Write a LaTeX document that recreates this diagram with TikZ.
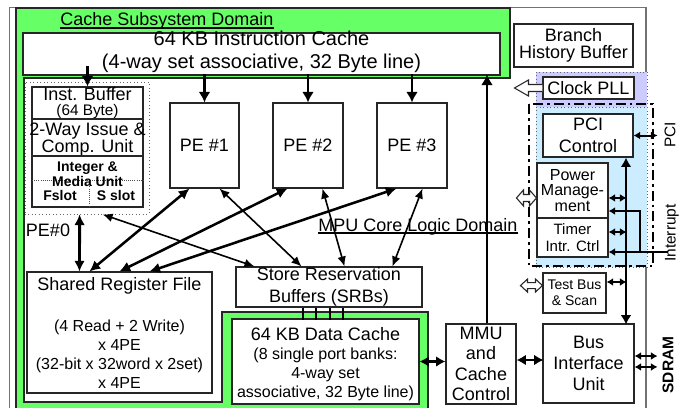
\documentclass[tikz,border=0pt]{standalone}
\usepackage{fontspec}
\setmainfont{Liberation Sans}
\usetikzlibrary{arrows.meta}
\definecolor{cgreen}{RGB}{102,255,102}
\definecolor{cpurple}{RGB}{204,204,255}
\definecolor{cblue}{RGB}{204,236,255}
\tikzset{
  R/.style n args={4}{minimum width={(#3-#1)*0.75pt},minimum height={(#4-#2)*0.75pt},at={({(#1+#3)/2},{(#2+#4)/2})}},
  box/.style={draw=black!85,fill=white,line width=0.8pt,inner sep=0pt,align=center},
  txt/.style={inner sep=0pt,align=center},
  f20/.style={font=\fontsize{15pt}{17.25pt}\selectfont},
  f18/.style={font=\fontsize{13.5pt}{16pt}\selectfont},
  f16/.style={font=\fontsize{12pt}{14.25pt}\selectfont},
  arrIn/.style={line width=2.2pt,{Latex[length=8pt,width=9pt]}-},
  arrOut/.style={line width=2.2pt,-{Latex[length=8pt,width=9pt]}},
  dThick/.style={line width=1.9pt,{Latex[length=8pt,width=8pt]}-{Latex[length=8pt,width=8pt]}},
  dThin/.style={line width=1.2pt,{Latex[length=7.5pt,width=6.5pt]}-{Latex[length=7.5pt,width=6.5pt]}},
  dSmall/.style={line width=1.5pt,{Latex[length=5pt,width=6pt]}-{Latex[length=5pt,width=6pt]}},
  dMed/.style={line width=1.8pt,{Latex[length=7pt,width=8pt]}-{Latex[length=7pt,width=8pt]}},
  hollowArr/.style={draw=black!85,fill=white,line width=0.8pt},
}
\begin{document}
\begin{tikzpicture}[x=0.75pt,y=-0.75pt]
\useasboundingbox (0,0) rectangle (688,407);
\clip (0,0) rectangle (688,407);
% outer frame
\draw[black!55,line width=0.8pt] (9.5,7.5) rectangle (646,420);
% cache subsystem domain (green)
\draw[fill=cgreen,draw=black!85,line width=0.8pt] (16,8) -- (510,8) -- (510,78) -- (24,78) -- (24,402) -- (222,402) -- (222,312) -- (428,312) -- (428,420) -- (16,420) -- cycle;
% clock / PCI regions
\draw[fill=cpurple,draw=black!60,dotted,line width=0.6pt] (536,72) rectangle (647,107);
\draw[fill=cblue,draw=black!60,dotted,line width=0.6pt] (536,107) rectangle (647,267);

\node[txt,f18,anchor=base west] (csd) at (60,26) {Cache Subsystem Domain};
\draw[line width=0.8pt] ([yshift=-1.5pt]csd.base west) -- ([yshift=-1.5pt]csd.base east);

% instruction cache
\node[box,R={23}{33}{500}{75}] (ic) {};
\node[txt,f20] (ict) at (261.5,51.5) {64 KB Instruction Cache\\(4-way set associative, 32 Byte line)};

\node[box,R={514}{24}{633}{67},font=\fontsize{13.5pt}{12.75pt}\selectfont] (bhb) {Branch\\History Buffer};
\node[box,f18,R={543}{77}{634}{99}] (pll) {Clock PLL};
\draw[hollowArr,shift={(pll.west)}] (0,-3.5) -- (-14,-3.5) -- (-14,-8) -- (-28,0) -- (-14,8) -- (-14,3.5) -- (0,3.5);

% dash-dot PCI/peripheral boundary
\draw[line width=1.8pt,dash pattern=on 7.5pt off 3pt on 2pt off 3pt] (529,104) rectangle (653,266);

\node[box,R={543}{114}{633}{157},font=\fontsize{13.5pt}{16.5pt}\selectfont] (pci) {PCI\\Control};
\node[box,R={537}{163}{608}{218},font=\fontsize{12pt}{11.5pt}\selectfont] (pm) {Power\\Manage-\\ment};
\node[box,R={537}{218}{608}{257},font=\fontsize{11.25pt}{12.75pt}\selectfont] (tim) {Timer\\Intr. Ctrl};
\node[box,R={543}{273}{606}{313},font=\fontsize{10.5pt}{12pt}\selectfont] (tb) {Test Bus\\\& Scan};
\node[box,R={543}{324}{634}{403},font=\fontsize{13.5pt}{16pt}\selectfont] (biu) {Bus\\Interface\\Unit};
\node[box,R={446}{324}{516}{404},font=\fontsize{13.5pt}{15.25pt}\selectfont] (mmu) {MMU\\and\\Cache\\Control};

% data cache
\node[box,R={232}{319}{419}{404}] (dc) {};
\node[txt,f18] (dct) at (325.5,334) {64 KB Data Cache};
\node[txt,f16] (dcs) at (325.5,374) {(8 single port banks:\\4-way set\\associative, 32 Byte line)};

% store reservation buffers
\node[box,R={236}{267}{422}{307},font=\fontsize{13.5pt}{16.5pt}\selectfont] (srb) {Store Reservation\\Buffers (SRBs)};
\foreach \dx in {-19.5,-9.75,0.75,10.5}
  \draw[line width=2.2pt] ([xshift=\dx pt]srb.south) -- ++(0,12);

% shared register file
\node[box,R={27}{272}{212}{393}] (srf) {};
\node[txt,f18] (srft) at (119.5,286) {Shared Register File};
\node[txt,f16] (srfs) at (119.5,354.5) {(4 Read + 2 Write)\\x 4PE\\(32-bit x 32word x 2set)\\x 4PE};

% PEs
\node[box,f18,R={170}{103}{239}{188}] (pe1) {PE \#1};
\node[box,f18,R={273}{103}{343}{188}] (pe2) {PE \#2};
\node[box,f18,R={377}{103}{447}{188}] (pe3) {PE \#3};

% PE#0 cluster
\node[draw=black!60,dotted,line width=0.6pt,inner sep=0pt,R={25}{82}{149}{214}] (pe0) {};
\node[box,R={32}{87}{143}{119}] (ib) {};
\node[txt,font=\fontsize{13.5pt}{11.25pt}\selectfont] (ibt) at (87.5,103) {Inst. Buffer\\{\fontsize{11.5pt}{11.25pt}\selectfont (64 Byte)}};
\node[box,R={32}{119}{143}{156}] (iss) {};
\node[txt,font=\fontsize{13.5pt}{12.75pt}\selectfont] (isst) at (87.5,139.5) {2-Way Issue \&\\Comp. Unit};
\node[box,R={32}{156}{143}{207}] (imu) {};
\draw[black!70,densely dotted,line width=0.6pt] (32,180) -- (143,180);
\draw[black!70,densely dotted,line width=0.6pt] (89,180) -- (89,207);
\node[txt,font=\fontsize{10.5pt}{9pt}\selectfont\bfseries] (imt) at (87.5,174) {Integer \&\\Media Unit};
\node[txt,font=\fontsize{10.5pt}{12pt}\selectfont\bfseries] (fs) at (60,195) {Fslot};
\node[txt,font=\fontsize{10.5pt}{12pt}\selectfont\bfseries] (ss) at (116,195) {S slot};
\node[txt,f18] (pe0l) at (48,230) {PE\#0};

% I-cache arrows
\draw[arrIn] (ib.north) -- ++(0,-20);
\draw[arrIn] (pe1.north) -- ++(0,-28);
\draw[arrIn] (pe2.north) -- ++(0,-28);
\draw[arrIn] (pe3.north) -- ++(0,-28);
\draw[arrOut] ([xshift=4.5pt]mmu.north) -- ++(0,-249);

% PE0 <-> SRF
\draw[dThick,line width=2.2pt] ([xshift=41.25pt]pe0.south west) -- ([xshift=39.75pt]srf.north west);
% PEs <-> SRF
\draw[dThick] ([xshift=15pt]pe1.south west) -- ([xshift=47.25pt]srf.north west);
\draw[dThick] ([xshift=11.25pt]pe2.south west) -- ([xshift=69.75pt]srf.north west);
\draw[dThick] ([xshift=15pt]pe3.south west) -- ([xshift=92.25pt]srf.north west);
% PEs <-> SRB
\draw[dThin] ([xshift=58.5pt]pe0.south west) -- ([xshift=14.25pt]srb.north west);
\draw[dThin] ([xshift=37.5pt]pe1.south west) -- ([xshift=49.5pt]srb.north west);
\draw[dThin] ([xshift=37.5pt]pe2.south west) -- ([xshift=81.75pt]srb.north west);
\draw[dThin] ([xshift=34.5pt]pe3.south west) -- ([xshift=117.75pt]srb.north west);

% bottom row arrows
\draw[dMed] (dc.east) -- (dc.east -| mmu.west);
\draw[dMed] ([yshift=3pt]mmu.east) -- ++(27,0);
\draw[dSmall] ([yshift=5.6pt]biu.east) -- ++(23,0);
\draw[dSmall] ([yshift=-2.6pt]biu.east) -- ++(23,0);

% peripheral arrows
\draw[dSmall] (pci.east) -- ++(24,0);
\draw[dSmall] ([yshift=-5.6pt]pm.east) -- ++(18,0);
\draw[dSmall] ([yshift=4.1pt]tim.east) -- ++(18,0);
\draw[dSmall] ([yshift=8.25pt]tb.east) -- ++(20,0);
\draw[line width=1.5pt,{Latex[length=5pt,width=6pt]}-] ([yshift=-10.9pt]tim.east) -- ++(59,0);
\draw[line width=1.5pt,{Latex[length=5pt,width=6pt]}-] ([yshift=-15.4pt]pm.east) -- ++(31,0) -- ++(0,41);
\draw[line width=1.8pt,{Latex[length=7pt,width=8pt]}-{Latex[length=7pt,width=8pt]}] ([xshift=28.5pt]pci.south) -- ++(0,167);

% hollow double arrows
\draw[hollowArr,shift={([yshift=-5.6pt]pm.west)}] (0,0) -- (-7,-8) -- (-7,-3.5) -- (-13,-3.5) -- (-13,-8) -- (-20,0) -- (-13,8) -- (-13,3.5) -- (-7,3.5) -- (-7,8) -- cycle;
\draw[hollowArr,shift={([yshift=5.6pt]tb.west)}] (0,0) -- (-7,-6.5) -- (-7,-3) -- (-15,-3) -- (-15,-6.5) -- (-22,0) -- (-15,6.5) -- (-15,3) -- (-7,3) -- (-7,6.5) -- cycle;

% MPU core logic domain label
\node[txt,f18,anchor=base west] (mcl) at (318,231) {MPU Core Logic Domain};
\draw[line width=0.8pt] ([yshift=-1.5pt]mcl.base west) -- ([yshift=-1.5pt]mcl.base east);

% side labels
\node[txt,rotate=90,font=\fontsize{11.6pt}{13pt}\selectfont] (pcil) at (670,135) {PCI};
\node[txt,rotate=90,font=\fontsize{11.6pt}{13pt}\selectfont] (intl) at (672,233) {Interrupt};
\node[txt,rotate=90,font=\fontsize{11.6pt}{13pt}\selectfont\bfseries] (sdl) at (668,365) {SDRAM};
\end{tikzpicture}
\end{document}
